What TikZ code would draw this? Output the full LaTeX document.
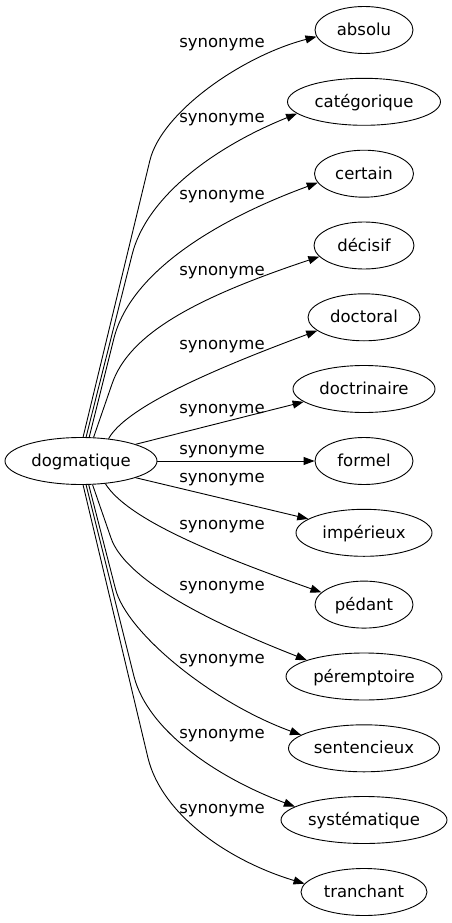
\documentclass[tikz,border=0pt]{standalone}
\usepackage{fontspec}
\setmainfont{DejaVu Sans}
\usetikzlibrary{arrows.meta,shapes.geometric}
\begin{document}
\begin{tikzpicture}[x=1pt,y=-1pt,
  word/.style={draw, ellipse, line width=0.9pt, inner sep=0pt, minimum height=47pt,
    font=\fontsize{16.5}{20}\selectfont, text height=12.5pt, text depth=1.5pt},
  lbl/.style={font=\fontsize{16.5}{20}\selectfont, inner sep=0pt},
  edge/.style={draw, line width=0.9pt, -{Triangle[length=11pt,width=8pt]}}]
\useasboundingbox (0,0) rectangle (452,923);
\node[word, minimum width=152pt] (d) at (81,461) {dogmatique};
\node[word, minimum width=98pt]  (n1)  at (364,30)    {absolu};
\node[word, minimum width=153pt] (n2)  at (364,101.8) {catégorique};
\node[word, minimum width=99pt]  (n3)  at (364,173.7) {certain};
\node[word, minimum width=100pt] (n4)  at (364,245.5) {décisif};
\node[word, minimum width=112pt] (n5)  at (364,317.3) {doctoral};
\node[word, minimum width=142pt] (n6)  at (364,389)   {doctrinaire};
\node[word, minimum width=98pt]  (n7)  at (364,461)   {formel};
\node[word, minimum width=136pt] (n8)  at (364,532.8) {impérieux};
\node[word, minimum width=98pt]  (n9)  at (364,604.6) {pédant};
\node[word, minimum width=156pt] (n10) at (364,676.5) {péremptoire};
\node[word, minimum width=151pt] (n11) at (364,748.3) {sentencieux};
\node[word, minimum width=166pt] (n12) at (364,820)   {systématique};
\node[word, minimum width=126pt] (n13) at (364,892)   {tranchant};

\draw[edge] (d.85) -- (150,160) .. controls (162,112) and (242,56) .. (n1.188);
\draw[edge] (d.78) -- (132,255) .. controls (146,198) and (212,148) .. (n2.190);
\draw[edge] (d.71) -- (114,338) .. controls (131,272) and (216,220) .. (n3.191);
\draw[edge] (d.62) -- (112,384) .. controls (129,334) and (195,298) .. (n4.194);
\draw[edge] (d.39) .. controls (125,409) and (203,373) .. (n5.196);
\draw[edge] (d.17) -- (n6.192);
\draw[edge] (d.east) -- (n7.west);
\draw[edge] (d.-17) -- (n8.166);
\draw[edge] (d.-43) .. controls (127,518) and (207,552) .. (n9.164);
\draw[edge] (d.-64) -- (111,538) .. controls (124.5,577) and (199,618) .. (n10.164);
\draw[edge] (d.-72) -- (115.5,589) .. controls (126.8,633) and (212,702.5) .. (n11.168);
\draw[edge] (d.-78) -- (134,676.5) .. controls (148,731) and (218,778) .. (n12.169);
\draw[edge] (d.-85) -- (148,758) .. controls (162,815) and (229,861) .. (n13.172);

\node[lbl] (l1)  at (222,45)  {synonyme};
\node[lbl] (l2)  at (222,120) {synonyme};
\node[lbl] (l3)  at (222,197) {synonyme};
\node[lbl] (l4)  at (222,273) {synonyme};
\node[lbl] (l5)  at (222,347) {synonyme};
\node[lbl] (l6)  at (222,411) {synonyme};
\node[lbl] (l7)  at (222,452) {synonyme};
\node[lbl] (l8)  at (222,480) {synonyme};
\node[lbl] (l9)  at (222,527) {synonyme};
\node[lbl] (l10) at (222,588) {synonyme};
\node[lbl] (l11) at (222,661) {synonyme};
\node[lbl] (l12) at (222,736) {synonyme};
\node[lbl] (l13) at (222,811) {synonyme};
\end{tikzpicture}
\end{document}
